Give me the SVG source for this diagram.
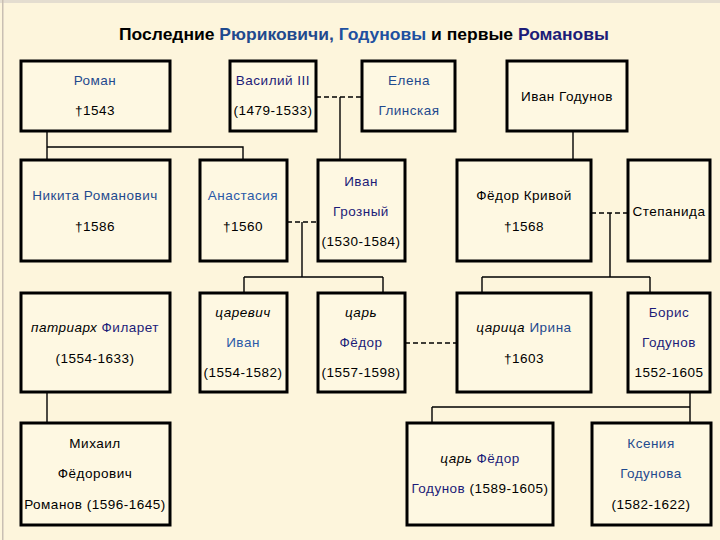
<svg xmlns="http://www.w3.org/2000/svg" width="720" height="540" viewBox="0 0 720 540">
<style>
.bx{fill:#fef8e2;stroke:#000;stroke-width:3}
.ln{fill:none;stroke:#000;stroke-width:1.4}
.ds{fill:none;stroke:#000;stroke-width:1.4;stroke-dasharray:5 3}
text{font-family:"Liberation Sans",Arial,sans-serif;font-size:13.5px;letter-spacing:0.5px;text-anchor:middle;fill:#000}
.b{fill:#1f4a8e}
.l{fill:#2b5aa8}
.g{fill:#2050a0}
.n{fill:#1c1c78}
.i{font-style:italic}
.t{font-size:17px;font-weight:bold;letter-spacing:0}
</style>
<rect x="0" y="0" width="720" height="540" fill="#fdf5dc"/>
<rect x="0" y="0" width="720" height="3" fill="#e4ddd0"/>
<rect x="2" y="0" width="1.5" height="540" fill="#c9bfb3"/>
<text class="t" x="364" y="40" textLength="490" lengthAdjust="spacingAndGlyphs">Последние <tspan class="b">Рюриковичи,</tspan> <tspan class="g">Годуновы</tspan> и первые <tspan class="n">Романовы</tspan></text>
<g id="connectors">
<path class="ln" d="M47 131V160M47 147H243V160"/>
<path class="ds" d="M316 97H362"/>
<path class="ln" d="M340 97V160"/>
<path class="ln" d="M573 131V160"/>
<path class="ds" d="M287 222H318"/>
<path class="ln" d="M302 222V277M244 277H383M244 277V293M383 277V293"/>
<path class="ds" d="M591 213H628"/>
<path class="ln" d="M610 213V277M482 277H650M482 277V293M650 277V293"/>
<path class="ln" d="M47 392V423"/>
<path class="ds" d="M405 343H457"/>
<path class="ln" d="M690 392V423M432 407H690M432 407V423"/>
</g>
<g id="roman"><rect class="bx" x="21" y="61" width="149" height="70"/><text class="b" x="95" y="85">Роман</text><text x="95" y="115">†1543</text></g>
<g id="vasily"><rect class="bx" x="230" y="61" width="86" height="70"/><text class="n" x="273" y="85">Василий III</text><text x="273" y="115">(1479-1533)</text></g>
<g id="elena"><rect class="bx" x="362" y="61" width="93" height="70"/><text class="b" x="409" y="85">Елена</text><text class="b" x="409" y="115">Глинская</text></g>
<g id="ivan-godunov"><rect class="bx" x="507" y="61" width="120" height="70"/><text x="567" y="101">Иван Годунов</text></g>
<g id="nikita"><rect class="bx" x="21" y="160" width="149" height="101"/><text class="b" x="95" y="200">Никита Романович</text><text x="95" y="231">†1586</text></g>
<g id="anastasia"><rect class="bx" x="200" y="160" width="87" height="101"/><text class="l" x="243" y="200">Анастасия</text><text x="243" y="231">†1560</text></g>
<g id="ivan-grozny"><rect class="bx" x="318" y="160" width="87" height="101"/><text class="n" x="361" y="186">Иван</text><text class="n" x="361" y="216">Грозный</text><text x="361" y="246">(1530-1584)</text></g>
<g id="fedor-krivoy"><rect class="bx" x="457" y="160" width="134" height="101"/><text x="524" y="200">Фёдор Кривой</text><text x="524" y="231">†1568</text></g>
<g id="stepanida"><rect class="bx" x="628" y="160" width="82" height="101"/><text x="669" y="216">Степанида</text></g>
<g id="filaret"><rect class="bx" x="21" y="293" width="149" height="99"/><text x="95" y="332"><tspan class="i">патриарх</tspan> <tspan class="n">Филарет</tspan></text><text x="95" y="363">(1554-1633)</text></g>
<g id="tsarevich-ivan"><rect class="bx" x="200" y="293" width="87" height="99"/><text class="i" x="243" y="317">царевич</text><text class="l" x="243" y="347">Иван</text><text x="243" y="377">(1554-1582)</text></g>
<g id="tsar-fedor"><rect class="bx" x="318" y="293" width="87" height="99"/><text class="i" x="361" y="317">царь</text><text class="n" x="361" y="347">Фёдор</text><text x="361" y="377">(1557-1598)</text></g>
<g id="irina"><rect class="bx" x="457" y="293" width="134" height="99"/><text x="524" y="332"><tspan class="i">царица</tspan> <tspan class="b">Ирина</tspan></text><text x="524" y="363">†1603</text></g>
<g id="boris"><rect class="bx" x="628" y="293" width="82" height="99"/><text class="n" x="669" y="317">Борис</text><text class="n" x="669" y="347">Годунов</text><text x="669" y="377">1552-1605</text></g>
<g id="mikhail"><rect class="bx" x="21" y="423" width="149" height="102"/><text x="95" y="448">Михаил</text><text x="95" y="478">Фёдорович</text><text x="95" y="509">Романов (1596-1645)</text></g>
<g id="fedor-godunov"><rect class="bx" x="407" y="423" width="146" height="102"/><text x="480" y="463"><tspan class="i">царь</tspan> <tspan class="n">Фёдор</tspan></text><text x="480" y="493"><tspan class="n">Годунов</tspan> (1589-1605)</text></g>
<g id="ksenia"><rect class="bx" x="592" y="423" width="119" height="102"/><text class="b" x="651" y="448">Ксения</text><text class="b" x="651" y="478">Годунова</text><text x="651" y="509">(1582-1622)</text></g>
</svg>
